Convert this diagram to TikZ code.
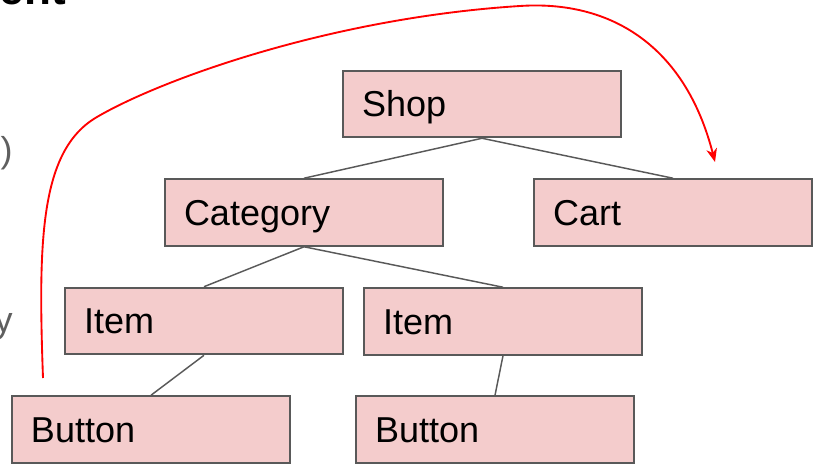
\documentclass[tikz,border=0pt]{standalone}
\usepackage{fontspec}
\setmainfont{Liberation Sans}
\usetikzlibrary{arrows.meta}
\definecolor{boxfill}{HTML}{F4CCCC}
\definecolor{boxline}{HTML}{595959}
\definecolor{fragtext}{HTML}{5F5F5F}
\tikzset{
  box/.style={draw=boxline, line width=1.4pt, fill=boxfill, minimum width=208.5pt, minimum height=50pt,
    text width=180pt, inner xsep=14.25pt, align=left, font=\fontsize{27}{30}\selectfont,
    text height=19.3pt, text depth=0pt},
  link/.style={draw=boxline, line width=1.1pt},
  redarrow/.style={draw=red, line width=1.4pt, -{Stealth[length=10pt,width=8pt,inset=3pt]}},
  frag/.style={inner sep=0pt, font=\fontsize{27}{30}\selectfont, text=fragtext}
}
\begin{document}
\begin{tikzpicture}[x=0.75pt, y=-0.75pt]
\useasboundingbox (0,0) rectangle (813,466);
% cropped fragments of slide text at the left edge
\node[inner sep=0pt, anchor=base east, font=\fontsize{33}{36}\selectfont\bfseries] (title) at (66,5) {ent};
\node[frag, anchor=base east] (paren) at (13,163) {)};
\node[frag, anchor=base east] (ylet) at (13,333) {y};
% boxes
\node[box] (shop) at (482,104) {Shop};
\node[box] (category) at (304,212.5) {Category};
\node[box] (cart) at (673,212.5) {Cart};
\node[box] (item1) at (204,321) {Item};
\node[box] (item2) at (503,321.5) {Item};
\node[box] (button1) at (151,429.5) {Button};
\node[box] (button2) at (495,429.5) {Button};
% tree links
\draw[link] (shop.south) -- (category.north);
\draw[link] (shop.south) -- (cart.north);
\draw[link] (category.south) -- (item1.north);
\draw[link] (category.south) -- (item2.north);
\draw[link] (item1.south) -- (button1.north);
\draw[link] (item2.south) -- (button2.north);
% red arrow
\coordinate (rs) at (43,378);
\coordinate (re) at (715,162);
\draw[redarrow] (rs) .. controls (38,240) and (40,150) .. (97,117)
  .. controls (160,80) and (330,18) .. (520,6)
  .. controls (610,0) and (685,45) .. (re);
\end{tikzpicture}
\end{document}
